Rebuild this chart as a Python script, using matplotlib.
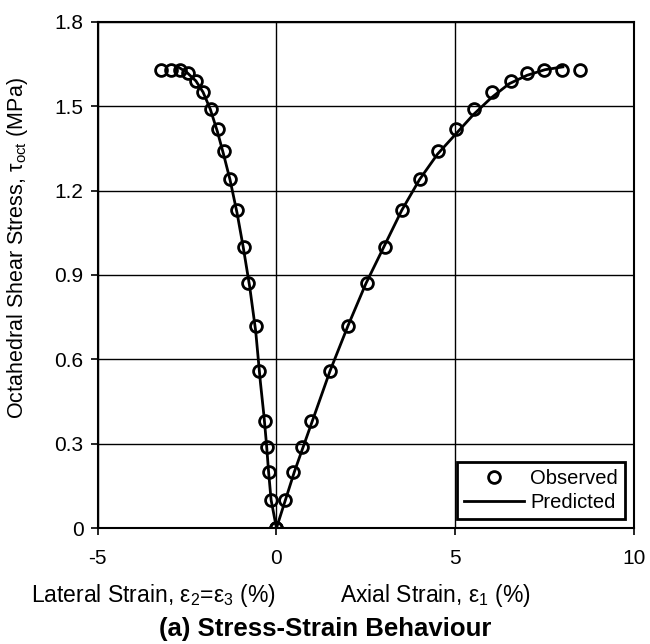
import numpy as np
import matplotlib
matplotlib.use('Agg')
import matplotlib.pyplot as plt

plt.rcParams['font.family'] = ['Liberation Sans', 'DejaVu Sans']
plt.rcParams['mathtext.fontset'] = 'custom'
plt.rcParams['mathtext.rm'] = 'Liberation Sans'
plt.rcParams['mathtext.it'] = 'Liberation Sans:italic'

tau_obs = [0, 0.10, 0.20, 0.29, 0.38, 0.56, 0.72, 0.87, 1.00, 1.13,
           1.24, 1.34, 1.42, 1.49, 1.55, 1.59, 1.62, 1.63, 1.63, 1.63]
axial_obs = [0, 0.23, 0.46, 0.70, 0.97, 1.50, 2.00, 2.54, 3.02, 3.52,
             4.02, 4.52, 5.02, 5.53, 6.03, 6.54, 7.00, 7.48, 7.98, 8.47]
lateral_obs = [0, -0.16, -0.22, -0.27, -0.32, -0.48, -0.57, -0.79, -0.92, -1.10,
               -1.29, -1.47, -1.62, -1.83, -2.04, -2.26, -2.47, -2.70, -2.96, -3.23]

# Predicted curves
axial_pred = [0, 0.5, 1.0, 1.5, 2.0, 2.5, 3.0, 3.5, 4.0, 4.5, 5.0, 5.5,
              6.0, 6.5, 7.0, 7.5, 8.0]
tau_axial_pred = [0, 0.20, 0.38, 0.56, 0.72, 0.87, 1.00, 1.13, 1.24, 1.33, 1.40, 1.47,
                  1.53, 1.58, 1.61, 1.63, 1.64]
lateral_pred = [0, -0.15, -0.22, -0.28, -0.35, -0.45, -0.58, -0.75, -0.93, -1.10,
                -1.30, -1.48, -1.65, -1.85, -2.05, -2.25, -2.50, -2.75]
tau_lateral_pred = [0, 0.10, 0.20, 0.30, 0.40, 0.52, 0.70, 0.86, 1.00, 1.12,
                    1.24, 1.33, 1.41, 1.49, 1.55, 1.59, 1.62, 1.64]

xticks = [-5, 0, 5, 10]
xtick_labels = ['-5', '0', '5', '10']
yticks = [0, 0.3, 0.6, 0.9, 1.2, 1.5, 1.8]
ytick_labels = ['0', '0.3', '0.6', '0.9', '1.2', '1.5', '1.8']

fig = plt.figure(figsize=(6.5, 6.44), dpi=100)
ax = fig.add_axes([0.150, 0.180, 0.826, 0.786])

ax.plot(axial_pred, tau_axial_pred, color='black', lw=2, label='Predicted', zorder=3)
ax.plot(lateral_pred, tau_lateral_pred, color='black', lw=2, zorder=3)
ax.plot(axial_obs, tau_obs, 'o', mfc='none', mec='black', mew=2, ms=8.5,
        label='Observed', zorder=4)
ax.plot(lateral_obs, tau_obs, 'o', mfc='none', mec='black', mew=2, ms=8.5, zorder=4)

ax.set_xlim(-5, 10)
ax.set_ylim(0, 1.8)
ax.set_xticks(xticks)
ax.set_xticklabels(xtick_labels)
ax.set_yticks(yticks)
ax.set_yticklabels(ytick_labels)
ax.grid(True, color='black', lw=1.0)
ax.set_axisbelow(True)
for s in ax.spines.values():
    s.set_linewidth(1.5)
ax.tick_params(direction='out', length=5, width=1.2, labelsize=15)
ax.tick_params(axis='x', pad=10)
ax.tick_params(axis='y', pad=5)

ax.set_ylabel(r'Octahedral Shear Stress, τ$_{\mathrm{oct}}$ (MPa)', fontsize=15.5)
ax.yaxis.set_label_coords(-0.125, 0.553)

fig.text(0.236, 0.076, r'Lateral Strain, ε$_{\mathrm{2}}$=ε$_{\mathrm{3}}$ (%)',
         ha='center', va='center', fontsize=16.5)
fig.text(0.670, 0.076, r'Axial Strain, ε$_{\mathrm{1}}$ (%)',
         ha='center', va='center', fontsize=16.5)
fig.text(0.50, 0.024, '(a) Stress-Strain Behaviour', ha='center', va='center',
         fontsize=18.5, fontweight='bold')

handles, labels = ax.get_legend_handles_labels()
leg = ax.legend(handles[::-1], labels[::-1], loc='lower right', fancybox=False,
                framealpha=1, edgecolor='black', fontsize=14.5,
                bbox_to_anchor=(0.99, 0.01), handlelength=3.0, handletextpad=0.3,
                borderpad=0.35, labelspacing=0.25, borderaxespad=0.2)
leg.get_frame().set_linewidth(2)

fig.savefig('out.png', dpi=100)
